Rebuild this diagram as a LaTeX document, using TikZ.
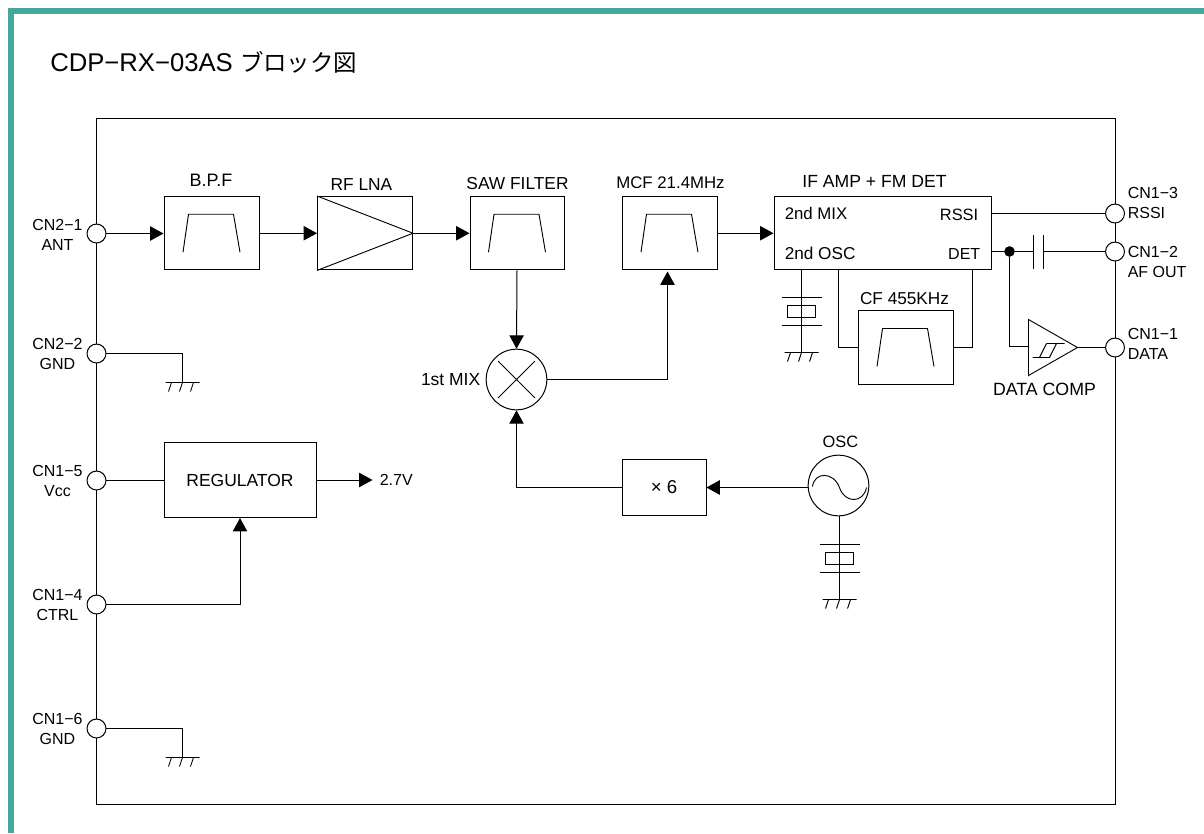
\documentclass[tikz,border=0pt]{standalone}
\usepackage{fontspec}
\setmainfont{Liberation Sans}
\newfontfamily\cjk{Noto Sans CJK JP}
\usetikzlibrary{arrows.meta}
\definecolor{frameteal}{HTML}{45A797}
\tikzset{
  wire/.style={line width=0.75pt,black},
  arrowwire/.style={wire,-{Triangle[length=10pt,width=10.75pt]}},
  blockbox/.style={draw,line width=0.75pt,fill=white,inner sep=0pt,rectangle,anchor=north west},
  port/.style={draw,line width=0.75pt,fill=white,circle,minimum size=14.2pt,inner sep=0pt},
  fs/.style={font=\fontsize{#1}{15}\selectfont},
  lbl/.style={fs=12,inner sep=0pt,align=center},
  lblr/.style={fs=12,inner sep=0pt,align=left,anchor=west},
  symcircle/.style={draw,line width=0.75pt,fill=white,circle,minimum size=45.5pt,inner sep=0pt},
  junction/.style={fill=black,circle,minimum size=8pt,inner sep=0pt}
}
\newcommand{\filtsym}[1]{\draw[line width=0.7pt] ([shift={(-28.5,19)}]#1.center) -- ([shift={(-23,-19)}]#1.center) -- ([shift={(22,-19)}]#1.center) -- ([shift={(28.5,19)}]#1.center);}
\newcommand{\gndsym}[1]{\draw[line width=0.7pt] ([xshift=-12.75pt]#1) -- ([xshift=12.75pt]#1)
  ([xshift=-8.25pt]#1) -- ++(-3,9) (#1) ++(0,0) -- ++(-3,9) ([xshift=8.25pt]#1) -- ++(-3,9);}
\newcommand{\xtal}[1]{\draw[line width=0.7pt] ([shift={(-20,0)}]#1) -- ([shift={(20,0)}]#1)
  ([shift={(-20,28)}]#1) -- ([shift={(20,28)}]#1)
  ([shift={(-14,8)}]#1) rectangle ([shift={(14,20)}]#1);}
\begin{document}
\begin{tikzpicture}[x=0.75pt,y=-0.75pt]
\useasboundingbox (0,0) rectangle (1204,833);
\fill[white] (0,0) rectangle (1204,833);
\fill[frameteal] (8,8) rectangle (1204,13.5);
\fill[frameteal] (8,8) rectangle (13.5,833);
\node[anchor=base west,inner sep=0pt,font=\fontsize{19.25}{22}\selectfont] (title) at (50,71) {CDP−RX−03AS {\cjk\fontsize{17.6}{22}\selectfont ブロック図}};
\begin{scope}[shift={(-0.5,0.5)}]
\draw[wire] (97,118) rectangle (1115.5,803.5);
% blocks
\node[blockbox,minimum width=71.25pt,minimum height=55.1pt] (bpf) at (164,195.5) {};
\node[blockbox,minimum width=71.25pt,minimum height=55.1pt] (lna) at (317.5,195.5) {};
\node[blockbox,minimum width=70.5pt,minimum height=55.1pt] (saw) at (470,195.5) {};
\node[blockbox,minimum width=71.25pt,minimum height=55.1pt] (mcf) at (622,195.5) {};
\node[blockbox,minimum width=162.75pt,minimum height=55.1pt] (ifa) at (774,195.5) {};
\node[blockbox,minimum width=71.25pt,minimum height=55.5pt] (cf) at (858,309.5) {};
\node[blockbox,minimum width=114pt,minimum height=56.25pt,fs=13.1] (reg) at (164,441.5) {REGULATOR};
\node[blockbox,minimum width=63pt,minimum height=42pt,fs=14] (x6) at (622,458.5) {× 6};
\node[symcircle] (mix) at (517,379) {};
\node[symcircle] (osc) at (839,485) {};
\filtsym{bpf}\filtsym{saw}\filtsym{mcf}\filtsym{cf}
\draw[line width=0.7pt] (lna.north west) -- (lna.east) -- (lna.south west);
\draw[line width=0.7pt] ([shift={(-18.5,-18.5)}]mix.center) -- ([shift={(18.5,18.5)}]mix.center)
  ([shift={(18.5,-18.5)}]mix.center) -- ([shift={(-18.5,18.5)}]mix.center);
\draw[line width=0.7pt] ([shift={(-26,1)}]osc.center) .. controls ([shift={(-24,-14)}]osc.center) and ([shift={(-5,-14)}]osc.center) .. ([shift={(1,2)}]osc.center)
  .. controls ([shift={(6,18)}]osc.center) and ([shift={(25,18)}]osc.center) .. ([shift={(28,2)}]osc.center);
% ports
\node[port] (p21) at (97,233) {};
\node[port] (p22) at (97,353) {};
\node[port] (p15) at (97,480) {};
\node[port] (p14) at (97,604) {};
\node[port] (p16) at (97,728) {};
\node[port] (p13) at (1115.5,213) {};
\node[port] (p12) at (1115.5,251) {};
\node[port] (p11) at (1115.5,347) {};
% comparator
\coordinate (cmpa) at (1029,319);
\coordinate (cmpb) at (1029,375);
\coordinate (cmpo) at (1078,347);
\draw[line width=0.7pt] (cmpa) -- (cmpo) -- (cmpb) -- cycle;
\draw[line width=0.7pt] (1033,357) -- (1050,357) -- (1057,343) -- (1065,343) (1047,343) -- (1057,343) (1040,357) -- (1047,343);
% main connectors
\draw[arrowwire] (p21) -- (p21 -| bpf.west);
\draw[arrowwire] (bpf.east) -- (lna.west);
\draw[arrowwire] (lna.east) -- (saw.west);
\draw[arrowwire] (saw.south) -- (mix.north);
\draw[arrowwire] (mix.east) -| (668,271);
\draw[arrowwire] (mcf.east) -- (ifa.west);
\draw[arrowwire,line width=1pt] (osc.west |- x6.east) -- (x6.east);
\draw[arrowwire] (x6.west) -| (mix.south);
\draw[wire] (p13) -- (p13 -| ifa.east);
\coordinate (detout) at (991,251);
\node[junction] (dot) at (1010,251) {};
\coordinate (capa) at (1034,251);
\coordinate (capb) at (1044,251);
\draw[wire] (detout) -- (dot) -- (capa);
\draw[wire] (capb) -- (p12);
\draw[line width=0.7pt] ([yshift=-12.75pt]capa) -- ([yshift=12.75pt]capa) ([yshift=-12.75pt]capb) -- ([yshift=12.75pt]capb);
\draw[wire] (dot) |- (1029,346);
\draw[wire] (cmpo) -- (p11);
% CF
\draw[wire] (839,269) |- (cf.west);
\draw[wire] (973,269) |- (cf.east);
% IF crystal
\coordinate (xa) at (802,297);
\coordinate (ga) at (802,352);
\draw[wire] (802,269) -- (xa);
\draw[wire] ([yshift=21pt]xa) -- (ga);
\xtal{xa}
\gndsym{ga}
% OSC crystal
\coordinate (xb) at (840,544);
\coordinate (gb) at (840,599);
\draw[wire] (osc.south -| xb) -- (xb);
\draw[wire] ([yshift=21pt]xb) -- (gb);
\xtal{xb}
\gndsym{gb}
% left side
\coordinate (g22) at (183,382);
\coordinate (g16) at (183,757);
\draw[wire] (p22) -| (g22);
\draw[wire] (p16) -| (g16);
\gndsym{g22}
\gndsym{g16}
\draw[wire] (p15) -- (p15 -| reg.west);
\coordinate (v27) at (373,479);
\draw[arrowwire] (reg.east) -- (reg.east -| v27);
\draw[arrowwire] (p14) -| (reg.south);
% block labels
\node[lbl,fs=13.5] (t1) at (211.5,180) {B.P.F};
\node[lbl,fs=13] (t2) at (362,184) {RF LNA};
\node[lbl,fs=13] (t3) at (518,183.5) {SAW FILTER};
\node[lbl,fs=12.6] (t4) at (671,182.5) {MCF 21.4MHz};
\node[lbl,fs=13.2] (t5) at (875,180.5) {IF AMP + FM DET};
\node[lbl,fs=12.6,anchor=west] (t6) at (785,212.5) {2nd MIX};
\node[lbl,fs=12.9,anchor=west] (t7) at (785,253) {2nd OSC};
\node[lbl,fs=12.3,anchor=east] (t8) at (979,214) {RSSI};
\node[lbl,anchor=east] (t9) at (981,253) {DET};
\node[lbl,fs=12.9] (t10) at (905,298) {CF 455KHz};
\node[lbl,fs=13.3] (t11) at (1045,389) {DATA COMP};
\node[lbl,fs=12.3] (t12) at (841,441) {OSC};
\node[lbl,fs=13.1,anchor=east] (t13) at (481,379) {1st MIX};
\node[lbl,anchor=west] (t14) at (380,479) {2.7V};
% port labels
\node[lbl] (l21) at (58,234) {CN2−1\\ANT};
\node[lbl] (l22) at (58,353) {CN2−2\\GND};
\node[lbl] (l15) at (58,480) {CN1−5\\Vcc};
\node[lbl] (l14) at (58,604) {CN1−4\\CTRL};
\node[lbl] (l16) at (58,728) {CN1−6\\GND};
\node[lblr] (r13) at (1128,202.5) {CN1−3\\RSSI};
\node[lblr] (r12) at (1128,261.5) {CN1−2\\AF OUT};
\node[lblr] (r11) at (1128,343) {CN1−1\\DATA};
\end{scope}
\end{tikzpicture}
\end{document}
